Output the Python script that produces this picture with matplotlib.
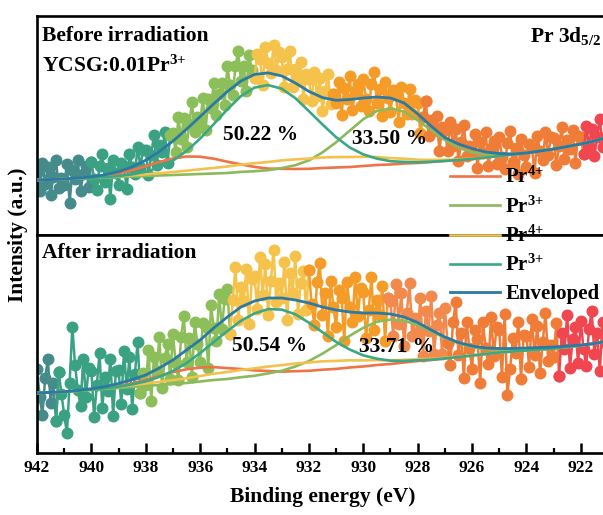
import numpy as np
import matplotlib
matplotlib.use('Agg')
import matplotlib.pyplot as plt

plt.rcParams['font.family'] = ['Liberation Serif', 'DejaVu Serif']
plt.rcParams['font.weight'] = 'bold'
plt.rcParams['mathtext.fontset'] = 'custom'
plt.rcParams['mathtext.rm'] = 'Liberation Serif:bold'
plt.rcParams['mathtext.bf'] = 'Liberation Serif:bold'
plt.rcParams['mathtext.it'] = 'Liberation Serif:bold:italic'

# measured counts, one point every 0.1 eV from 942.0 down to 921.1
data_energy = np.round(np.arange(942.0, 921.05, -0.1), 1)

before_counts = [
    62, 44, 72, 51, 68, 40, 58, 75, 47, 57,
    50, 71, 32, 65, 56, 75, 44, 61, 69, 48,
    73, 56, 45, 69, 81, 53, 67, 36, 75, 62,
    50, 72, 69, 46, 81, 68, 61, 88, 68, 85,
    85, 60, 80, 100, 70, 90, 83, 103, 72, 100,
    102, 83, 118, 96, 117, 88, 111, 133, 103, 118,
    112, 137, 105, 136, 127, 152, 120, 141, 152, 130,
    169, 150, 140, 169, 184, 154, 169, 144, 180, 165,
    157, 181, 176, 150, 188, 172, 162, 190, 165, 183,
    178, 148, 166, 184, 148, 166, 155, 173, 136, 161,
    156, 134, 163, 139, 157, 124, 144, 161, 131, 141,
    132, 153, 120, 147, 136, 159, 125, 144, 151, 129,
    156, 136, 124, 151, 163, 132, 146, 119, 153, 137,
    123, 145, 140, 113, 148, 132, 121, 146, 121, 135,
    132, 102, 118, 134, 99, 115, 104, 119, 84, 108,
    105, 84, 113, 89, 106, 74, 93, 110, 79, 89,
    81, 101, 67, 93, 82, 103, 69, 87, 94, 71,
    98, 78, 66, 92, 104, 73, 87, 61, 96, 80,
    68, 91, 88, 62, 99, 84, 75, 103, 80, 98,
    97, 70, 89, 108, 76, 95, 86, 105, 72, 99,
    98, 81, 109, 89, 106, 79, 98, 116, 88, 98,
]

after_counts = [
    84, 56, 38, 75, 94, 50, 70, 32, 81, 59,
    38, 20, 70, 126, 88, 63, 47, 94, 56, 85,
    82, 36, 68, 100, 45, 76, 62, 94, 37, 82,
    83, 49, 102, 64, 96, 44, 79, 111, 60, 80,
    68, 103, 52, 96, 82, 116, 65, 95, 109, 74,
    119, 90, 73, 116, 137, 91, 115, 76, 131, 109,
    91, 130, 126, 85, 148, 125, 112, 159, 124, 154,
    164, 119, 153, 186, 133, 166, 152, 184, 129, 174,
    177, 144, 196, 158, 189, 138, 172, 203, 151, 170,
    155, 191, 133, 180, 160, 197, 139, 170, 182, 143,
    183, 149, 128, 171, 190, 138, 160, 117, 172, 146,
    126, 163, 155, 112, 171, 146, 131, 176, 137, 165,
    161, 115, 143, 176, 123, 153, 138, 167, 112, 155,
    152, 117, 169, 129, 160, 107, 140, 170, 117, 135,
    121, 155, 97, 142, 122, 157, 99, 128, 140, 99,
    145, 110, 88, 131, 151, 98, 120, 75, 131, 105,
    84, 123, 114, 70, 131, 105, 89, 136, 97, 126,
    123, 76, 139, 58, 84, 115, 100, 131, 74, 118,
    117, 86, 134, 98, 127, 80, 111, 140, 92, 108,
    96, 130, 77, 120, 104, 138, 85, 114, 126, 90,
    132, 104, 87, 124, 142, 99, 120, 82, 131, 110,
]

# fitted curves, read every 0.5 eV from 942 down to 921
fit_energy = np.arange(942.0, 920.9, -0.5)

before_base = [55, 55.5, 56, 56.5, 57, 57.5, 58, 58.5, 59, 59.5,
               60, 60.5, 61, 61.5, 62, 63, 63.5, 64, 65, 65.5,
               66, 67, 67.5, 68, 69, 70, 70.5, 71.5, 72, 73,
               74, 75, 76, 77.5, 79, 80.5, 82, 84, 86, 88.5,
               91, 94, 98]
before_pr4_a = [0, 0, 0, 0.3, 0.8, 1.8, 3.6, 6.3, 9.8, 13.5,
                16.5, 18, 17.3, 14.8, 11.3, 7.6, 4.6, 2.4, 1.2, 0.5,
                0.2] + [0] * 22
before_pr3_a = [0] * 15 + [0.1, 0.3, 0.8, 1.9, 4.3,
                           8.6, 15.6, 25.2, 36.3, 46.8, 54.1, 56, 51.8, 42.8, 31.7,
                           21, 12.4, 6.6, 3.1, 1.3, 0.5, 0, 0, 0, 0,
                           0, 0, 0]
before_pr4_b = [0, 0.05, 0.1, 0.2, 0.3, 0.5, 0.8, 1.2, 1.7, 2.3,
                3.0, 3.8, 4.7, 5.6, 6.5, 7.4, 8.3, 9.0, 9.6, 10.1,
                10.4, 10.5, 10.4, 10.0, 9.2, 8.0, 6.4, 4.8, 3.3, 2.1,
                1.2, 0.6, 0.3, 0.1] + [0] * 9
before_pr3_b = [0, 0, 0, 0.05, 0.15, 0.4, 0.95, 2.1, 4.3, 8.2,
                14.4, 23.5, 35.4, 49.3, 63.6, 75.9, 83.9, 85.9, 81.3, 71.4,
                57.9, 43.5, 30.3, 19.5, 11.6, 6.4, 3.3, 1.6, 0.7, 0.3,
                0.1] + [0] * 12
before_env = [55, 55.5, 56.1, 57.1, 58.2, 60.2, 63.4, 68.1, 74.8, 83.5,
              93.9, 105.8, 118.4, 131.2, 143.4, 154, 160.6, 162.1, 159.1, 152,
              143.6, 137.4, 134.7, 135.5, 137, 138, 137, 132, 121.1, 108.8,
              97.4, 91, 86.5, 83, 81.5, 81, 82, 84, 86, 88.5,
              91, 94, 98]

after_base = [60, 60.5, 61, 62, 63, 64, 65, 66, 67, 68,
              69, 70, 71.5, 73, 74, 75.5, 76.5, 78, 79, 80.5,
              81.5, 83, 84, 85.5, 86.5, 88, 89, 90.5, 92, 93,
              94.5, 96, 97.5, 99, 100.5, 101.5, 102.5, 103.5, 104.5, 106,
              107.5, 109.5, 112]
after_pr4_a = [0, 0, 0.05, 0.15, 0.4, 0.9, 1.9, 3.6, 6.1, 9.1,
               11.9, 13.7, 13.9, 12.9, 10.9, 8.5, 6.1, 4.0, 2.4, 1.3,
               0.7, 0.3, 0.1] + [0] * 20
after_pr3_a = [0] * 15 + [0.3, 0.7, 1.6, 3.2, 6.0,
                          10.4, 16.4, 23.8, 31.7, 38.7, 43.3, 44.4, 41.8, 36.1, 28.6,
                          20.7, 13.8, 8.4, 4.7, 2.4, 1.1, 0.5, 0.2, 0, 0,
                          0, 0, 0]
after_pr4_b = [0, 0.1, 0.2, 0.4, 0.6, 0.9, 1.3, 1.8, 2.4, 3.1,
               3.9, 4.7, 5.5, 6.3, 7.0, 7.6, 8.1, 8.5, 8.8, 9.0,
               9.0, 8.7, 8.1, 7.2, 6.1, 4.9, 3.7, 2.6, 1.7, 1.0,
               0.6, 0.3, 0.1] + [0] * 10
after_pr3_b = [0, 0, 0.05, 0.15, 0.3, 0.6, 1.3, 2.6, 4.7, 8.1,
               13.1, 19.9, 28.3, 38.0, 47.9, 56.7, 63.1, 65.9, 64.4, 58.2,
               48.8, 37.8, 27.1, 18.0, 11.1, 6.3, 3.3, 1.6, 0.7, 0.3,
               0.1] + [0] * 12
after_env = [60, 60.6, 61.3, 62.7, 64.3, 66.4, 69.5, 73.5, 78, 85,
             93, 103, 113, 125, 136, 146, 152, 155, 155, 153,
             150, 146, 143, 141, 140, 140, 139, 136, 130.5, 123,
             116, 110.5, 107, 105, 104.5, 104.5, 105, 105.5, 106, 107,
             108, 109.5, 112]

# colour bands of the measured points (edges in eV)
before_edges = [942.05, 940.05, 937.1, 934.0, 931.1, 927.8, 921.9, 920.0]
before_colors = ['#468b8c', '#3aa283', '#8cbe5a', '#f5c34b', '#f59b28', '#f07d37', '#f04650']
after_edges = [942.05, 941.3, 938.2, 934.9, 932.0, 929.1, 926.9, 922.85, 920.0]
after_colors = ['#468b8c', '#3aa283', '#8cbe5a', '#f5c34b', '#f59b28', '#f28a4e', '#f07d37', '#f04650']

peak_labels = ['Pr$^{4{+}}$', 'Pr$^{3{+}}$', 'Pr$^{4{+}}$', 'Pr$^{3{+}}$', 'Enveloped']
peak_colors = ['#ef7346', '#8aba5c', '#f2c24e', '#3aa885', '#2b7aa3']
before_pct = ['50.22 %', '33.50 %']
after_pct = ['50.54 %', '33.71 %']


def draw_counts(ax, counts, edges, colors):
    counts = np.asarray(counts, float)
    for i, c in enumerate(colors):
        hi, lo = edges[i], edges[i + 1]
        m = (data_energy <= hi) & (data_energy > lo - 0.1)
        ax.plot(data_energy[m], counts[m], '-o', color=c, ms=7.6, lw=1.8,
                mec=c, zorder=2)


def draw_fit(ax, base, parts, env):
    base = np.asarray(base, float)
    lines = []
    for part, c in zip(parts, peak_colors[:4]):
        ln, = ax.plot(fit_energy, base + np.asarray(part, float), color=c, lw=1.9, zorder=3)
        lines.append(ln)
    ln, = ax.plot(fit_energy, env, color=peak_colors[4], lw=2.0, zorder=4)
    lines.append(ln)
    return lines


fig = plt.figure(figsize=(6.03, 5.15), dpi=100)
ax1 = fig.add_axes([37 / 603, 280 / 515, 571 / 603, 219 / 515])
ax2 = fig.add_axes([37 / 603, 62 / 515, 571 / 603, 218 / 515])

draw_counts(ax1, before_counts, before_edges, before_colors)
handles = draw_fit(ax1, before_base, [before_pr4_a, before_pr3_a, before_pr4_b, before_pr3_b], before_env)
draw_counts(ax2, after_counts, after_edges, after_colors)
draw_fit(ax2, after_base, [after_pr4_a, after_pr3_a, after_pr4_b, after_pr3_b], after_env)

ax1.set_ylim(0, 219)
ax2.set_ylim(0, 218)
for ax in (ax1, ax2):
    ax.set_xlim(942, 921)
    ax.set_yticks([])
    for s in ax.spines.values():
        s.set_linewidth(1.9)
ax1.tick_params(axis='x', bottom=False, labelbottom=False)
ax2.set_xticks(np.arange(942, 920, -2))
ax2.set_xticks(np.arange(941, 920, -2), minor=True)
ax2.tick_params(axis='x', which='major', direction='in', length=7, width=1.8,
                labelsize=12.5, pad=5)
ax2.tick_params(axis='x', which='minor', direction='in', length=3.5, width=1.6)

txt = dict(fontsize=15.5, fontweight='bold', zorder=6)
ax1.text(933.79, 100, before_pct[0], ha='center', va='center', **txt)
ax1.text(929.04, 96, before_pct[1], ha='center', va='center', **txt)
ax2.text(933.46, 107, after_pct[0], ha='center', va='center', **txt)
ax2.text(928.78, 106, after_pct[1], ha='center', va='center', **txt)

ax1.text(0.009, 0.886, 'Before irradiation', transform=ax1.transAxes, va='baseline', **txt)
ax1.text(0.009, 0.744, 'YCSG:0.01Pr$^{3{+}}$', transform=ax1.transAxes, va='baseline', **txt)
ax1.text(0.864, 0.881, 'Pr 3d$_{5/2}$', transform=ax1.transAxes, va='baseline', **txt)
ax2.text(0.009, 0.894, 'After irradiation', transform=ax2.transAxes, va='baseline', **txt)

fig.text(18 / 603, 1 - 235 / 515, 'Intensity (a.u.)', rotation=90, ha='center', va='center',
         fontsize=15.5, fontweight='bold')
fig.text(322.5 / 603, 1 - 497 / 515, 'Binding energy (eV)', ha='center', va='center',
         fontsize=15.5, fontweight='bold')

fig.legend(handles, peak_labels, loc='upper left', bbox_to_anchor=(450 / 603, 1 - 167 / 515),
           frameon=False, borderpad=0, borderaxespad=0, handlelength=2.4, handletextpad=0.25,
           labelspacing=0.39, prop={'family': 'Liberation Serif', 'weight': 'bold', 'size': 15})

fig.savefig('out.png', dpi=100)
